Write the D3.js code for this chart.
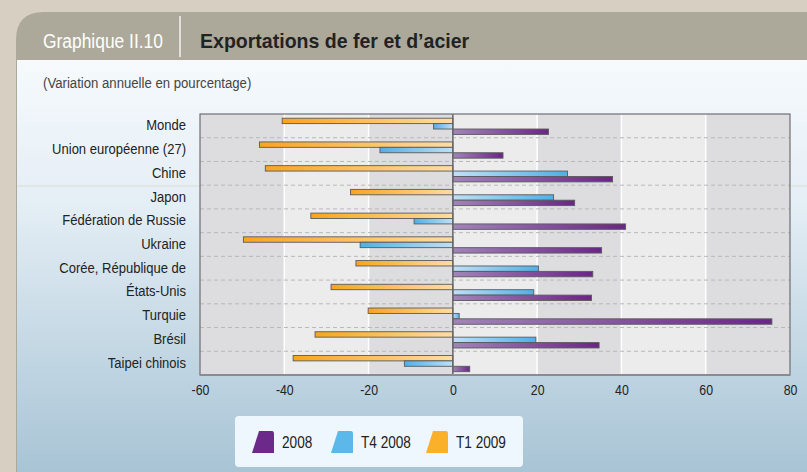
<!DOCTYPE html>
<html>
<head>
<meta charset="utf-8">
<script src="https://cdn.jsdelivr.net/npm/d3@7"></script>
<style>
  body { margin: 0; background: #d6cfc2; }
  svg { display: block; font-family: "Liberation Sans", Arial, sans-serif; }
</style>
</head>
<body>
<div id="chart"></div>
<script>
// data
var categories = ["Monde", "Union européenne (27)", "Chine", "Japon", "Fédération de Russie",
  "Ukraine", "Corée, République de", "États-Unis", "Turquie", "Brésil", "Taipei chinois"];
var seriesNames = ["T1 2009", "T4 2008", "2008"];
var valuesT12009 = [-40.5, -45.9, -44.5, -24.3, -33.7, -49.7, -23.0, -28.9, -20.1, -32.7, -37.9];
var valuesT42008 = [-4.6, -17.3, 27.2, 23.9, -9.2, -22.0, 20.3, 19.2, 1.5, 19.7, -11.5];
var values2008 = [22.7, 11.9, 37.9, 28.9, 41.0, 35.3, 33.2, 32.9, 75.7, 34.7, 4.0];
var xTicks = [-60, -40, -20, 0, 20, 40, 60, 80];
var legendOrder = ["2008", "T4 2008", "T1 2009"];

var seriesValues = { "T1 2009": valuesT12009, "T4 2008": valuesT42008, "2008": values2008 };
var colors = {
  "2008": { dark: "#6a2586", light: "#a185b8", swatch: "#6b2a8a" },
  "T4 2008": { dark: "#4fb0e6", light: "#bfe0f5", swatch: "#5bb8e8" },
  "T1 2009": { dark: "#f8a51c", light: "#ffdca4", swatch: "#fbb02a" }
};

var W = 807, H = 472;
var plot = { left: 200, right: 790, top: 114, bottom: 375 };

// squeeze text horizontally to mimic the narrow font of the original
function narrow(sel, f) {
  sel.each(function () {
    var len = this.getComputedTextLength();
    d3.select(this).attr("textLength", len * f).attr("lengthAdjust", "spacingAndGlyphs");
  });
}

var svg = d3.select("#chart").append("svg")
  .attr("width", W).attr("height", H);

var defs = svg.append("defs");

// card background gradient
var bg = defs.append("linearGradient").attr("id", "bodyGrad")
  .attr("x1", 0).attr("y1", 0).attr("x2", 0).attr("y2", 1);
bg.append("stop").attr("offset", "0%").attr("stop-color", "#f6fafd");
bg.append("stop").attr("offset", "35%").attr("stop-color", "#e4eef5");
bg.append("stop").attr("offset", "100%").attr("stop-color", "#a8c4d5");

// bar gradients (lighter near zero)
seriesNames.forEach(function (s, i) {
  ["pos", "neg"].forEach(function (dir) {
    var g = defs.append("linearGradient").attr("id", "g" + i + dir)
      .attr("x1", dir == "pos" ? 0 : 1).attr("x2", dir == "pos" ? 1 : 0)
      .attr("y1", 0).attr("y2", 0);
    g.append("stop").attr("offset", "0%").attr("stop-color", colors[s].light);
    g.append("stop").attr("offset", "100%").attr("stop-color", colors[s].dark);
  });
});

// outer card
svg.append("path")
  .attr("d", "M16,40 Q16,12 44,12 L807,12 L807,472 L16,472 Z")
  .attr("fill", "#aca99a");
svg.append("rect")
  .attr("x", 17).attr("y", 60).attr("width", W - 17).attr("height", H - 60)
  .attr("fill", "url(#bodyGrad)");
// faint artifact line
svg.append("line")
  .attr("x1", 17).attr("x2", W).attr("y1", 186).attr("y2", 186)
  .attr("stroke", "#dcdcd2").attr("stroke-width", 1);

// header
svg.append("line")
  .attr("x1", 180).attr("x2", 180).attr("y1", 16).attr("y2", 57)
  .attr("stroke", "#f4f2ec").attr("stroke-width", 1.5);
svg.append("text")
  .attr("x", 43).attr("y", 48)
  .attr("fill", "#ffffff")
  .style("font-size", "20px")
  .text("Graphique II.10")
  .call(narrow, 0.87);
svg.append("text")
  .attr("x", 200).attr("y", 48)
  .attr("fill", "#222222")
  .attr("font-weight", "bold")
  .style("font-size", "21px")
  .text("Exportations de fer et d’acier")
  .call(narrow, 0.93);
svg.append("text")
  .attr("x", 43).attr("y", 88)
  .attr("fill", "#444")
  .style("font-size", "14px")
  .text("(Variation annuelle en pourcentage)")
  .call(narrow, 0.94);

// scales
var x = d3.scaleLinear().domain([-60, 80]).range([plot.left, plot.right]);
var y = d3.scaleBand().domain(categories).range([plot.top, plot.bottom]).padding(0);
var ySub = d3.scaleBand().domain(seriesNames)
  .range([4.2, y.bandwidth() - 3.3]).padding(0);

var g = svg.append("g");

// column bands
for (var i = 0; i < xTicks.length - 1; i++) {
  g.append("rect")
    .attr("x", x(xTicks[i])).attr("y", plot.top)
    .attr("width", x(xTicks[i + 1]) - x(xTicks[i]))
    .attr("height", plot.bottom - plot.top)
    .attr("fill", i % 2 == 0 ? "#dddde0" : "#ececed");
}
// white gridlines
g.selectAll(".vgrid")
  .data(xTicks.filter(function (d) { return d != 0 && d != -60 && d != 80; }))
  .enter().append("line")
  .attr("x1", function (d) { return x(d); })
  .attr("x2", function (d) { return x(d); })
  .attr("y1", plot.top).attr("y2", plot.bottom)
  .attr("stroke", "#ffffff").attr("stroke-width", 1.5);

// dashed separators between categories
g.selectAll(".sep")
  .data(categories.slice(1))
  .enter().append("line")
  .attr("x1", plot.left).attr("x2", plot.right)
  .attr("y1", function (d) { return y(d); })
  .attr("y2", function (d) { return y(d); })
  .attr("stroke", "#b8b8bb").attr("stroke-dasharray", "4,3");

// bars
seriesNames.forEach(function (s, si) {
  g.selectAll(".bar" + si)
    .data(seriesValues[s])
    .enter().append("rect")
    .attr("x", function (d) { return x(Math.min(0, d)); })
    .attr("y", function (d, i) { return y(categories[i]) + ySub(s); })
    .attr("width", function (d) { return Math.abs(x(d) - x(0)); })
    .attr("height", ySub.bandwidth())
    .attr("fill", function (d) { return "url(#g" + si + (d >= 0 ? "pos" : "neg") + ")"; })
    .attr("stroke", "#5a5a5e").attr("stroke-width", 0.9);
});

// zero line
g.append("line")
  .attr("x1", x(0)).attr("x2", x(0))
  .attr("y1", plot.top).attr("y2", plot.bottom)
  .attr("stroke", "#66666a").attr("stroke-width", 1.5);

// frame
g.append("rect")
  .attr("x", plot.left).attr("y", plot.top)
  .attr("width", plot.right - plot.left).attr("height", plot.bottom - plot.top)
  .attr("fill", "none").attr("stroke", "#6e6e72").attr("stroke-width", 1.2);
g.append("line")
  .attr("x1", plot.left).attr("x2", plot.right)
  .attr("y1", plot.bottom).attr("y2", plot.bottom)
  .attr("stroke", "#8c8c90").attr("stroke-width", 2);

// axes
var xAxis = svg.append("g")
  .attr("transform", "translate(0," + plot.bottom + ")")
  .call(d3.axisBottom(x).tickValues(xTicks).tickSize(0).tickPadding(10)
    .tickFormat(function (d) { return String(d); }));
xAxis.select(".domain").remove();
xAxis.selectAll("text")
  .attr("fill", "#222")
  .style("font-family", "inherit")
  .style("font-size", "14px")
  .call(narrow, 0.88);

var yAxis = svg.append("g")
  .attr("transform", "translate(" + plot.left + ",0)")
  .call(d3.axisLeft(y).tickSize(0).tickPadding(14));
yAxis.select(".domain").remove();
yAxis.selectAll("text")
  .attr("fill", "#222")
  .style("font-family", "inherit")
  .style("font-size", "14px")
  .call(narrow, 0.93);

// legend
var legend = svg.append("g");
legend.append("rect")
  .attr("x", 235).attr("y", 416).attr("width", 288).attr("height", 51)
  .attr("rx", 4).attr("fill", "#eef7fd");
var legendX = [252, 331, 426];
legendOrder.forEach(function (s, i) {
  var lx = legendX[i], ly = 431;
  legend.append("path")
    .attr("d", "M" + (lx + 7) + "," + ly + " L" + (lx + 20) + "," + ly +
      " Q" + (lx + 22) + "," + ly + " " + (lx + 22) + "," + (ly + 3) +
      " L" + (lx + 22) + "," + (ly + 22) + " L" + lx + "," + (ly + 22) + " Z")
    .attr("fill", colors[s].swatch);
  legend.append("text")
    .attr("x", lx + 30).attr("y", ly + 17)
    .attr("fill", "#222")
    .style("font-size", "17px")
    .text(s)
    .call(narrow, 0.8);
});
</script>
</body>
</html>
